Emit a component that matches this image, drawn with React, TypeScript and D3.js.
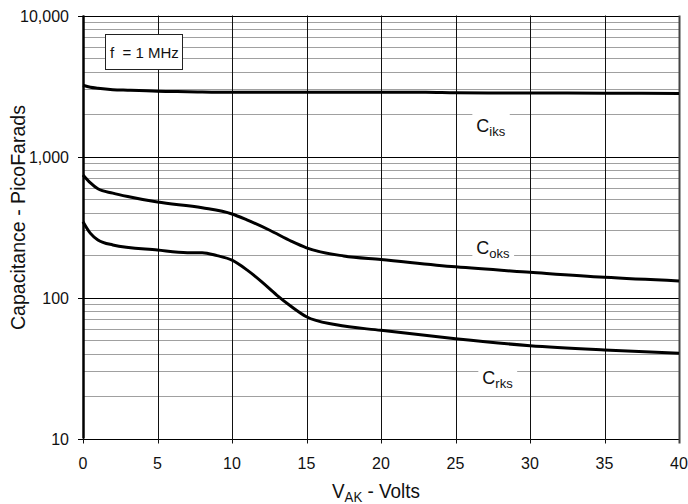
import { useEffect, useRef } from "react";
import * as d3 from "d3";

const xTicks = [0, 5, 10, 15, 20, 25, 30, 35, 40];
const yMajor = [10, 100, 1000, 10000];
const yTickLabels = ["10", "100", "1,000", "10,000"];

const ciksV = [0, 0.5, 1, 2, 3, 5, 7, 10, 15, 20, 23, 25, 30, 35, 40];
const ciksC = [3200, 3100, 3050, 2980, 2950, 2900, 2880, 2850, 2850, 2850, 2850, 2830, 2820, 2810, 2800];

const coksV = [0, 0.5, 1, 2, 3, 5, 8, 10, 11, 12.5, 14, 15, 17.5, 20, 25, 30, 35, 40];
const coksC = [740, 650, 590, 550, 520, 475, 433, 391, 355, 301, 250, 225, 197, 186, 165, 151, 139, 131];

const crksV = [0, 0.5, 1, 2, 5, 7, 8, 9, 10, 11, 12, 13, 14, 15, 17, 20, 25, 30, 35, 40];
const crksC = [345, 285, 256, 236, 217, 208, 208, 198, 184, 157, 129, 104, 86, 73, 64, 58.5, 51, 45.5, 42.4, 40.2];

const labels = [
  { main: "C", sub: "iks", v: 26.4, c: 1500 },
  { main: "C", sub: "oks", v: 26.4, c: 205 },
  { main: "C", sub: "rks", v: 26.8, c: 24.5 },
];

export default function App() {
  const ref = useRef<SVGSVGElement>(null);

  useEffect(() => {
    const svg = d3.select(ref.current);
    svg.selectAll("*").remove();

    const width = 688;
    const height = 504;
    const margin = { top: 15.5, right: 9, bottom: 65.5, left: 83 };
    const font = "Arial, 'Liberation Sans', sans-serif";

    svg.attr("width", width).attr("height", height);

    const x = d3.scaleLinear().domain([0, 40]).range([margin.left, width - margin.right]);
    const y = d3.scaleLog().domain([10, 10000]).range([height - margin.bottom, margin.top]);

    const g = svg.append("g");

    // minor horizontal grid
    const minor: number[] = [];
    [10, 100, 1000].forEach(d => {
      for (let k = 2; k <= 9; k++) minor.push(d * k);
    });
    g.selectAll("line.minor")
      .data(minor)
      .join("line")
      .attr("x1", x(0))
      .attr("x2", x(40))
      .attr("y1", d => Math.round(y(d)) + 0.5)
      .attr("y2", d => Math.round(y(d)) + 0.5)
      .attr("stroke", "#a0a0a0")
      .attr("stroke-width", 1);

    // major horizontal grid
    g.selectAll("line.major")
      .data(yMajor)
      .join("line")
      .attr("x1", x(0) - 5)
      .attr("x2", x(40))
      .attr("y1", d => Math.round(y(d)) + 0.5)
      .attr("y2", d => Math.round(y(d)) + 0.5)
      .attr("stroke", "#000")
      .attr("stroke-width", 1);

    // vertical grid + ticks
    g.selectAll("line.vx")
      .data(xTicks)
      .join("line")
      .attr("x1", d => Math.round(x(d)) + 0.5)
      .attr("x2", d => Math.round(x(d)) + 0.5)
      .attr("y1", y(10000))
      .attr("y2", y(10) + 5)
      .attr("stroke", d => (d === 40 ? "#444" : "#111"))
      .attr("stroke-width", d => (d === 40 ? 2 : 1));

    // left axis, thicker
    g.append("line")
      .attr("x1", x(0) + 0.5).attr("x2", x(0) + 0.5)
      .attr("y1", y(10000)).attr("y2", y(10))
      .attr("stroke", "#000").attr("stroke-width", 2.5);

    // y tick labels
    g.selectAll("text.yt")
      .data(yMajor)
      .join("text")
      .attr("x", x(0) - 14)
      .attr("y", d => y(d) + 6)
      .attr("text-anchor", "end")
      .attr("font-family", font)
      .attr("font-size", 16)
      .attr("fill", "#111")
      .text((d, i) => yTickLabels[i]);

    // x tick labels
    g.selectAll("text.xt")
      .data(xTicks)
      .join("text")
      .attr("x", d => x(d))
      .attr("y", y(10) + 30)
      .attr("text-anchor", "middle")
      .attr("font-family", font)
      .attr("font-size", 16)
      .attr("fill", "#111")
      .text(d => d);

    // curves
    const line = d3.line<[number, number]>()
      .x(d => x(d[0]))
      .y(d => y(d[1]))
      .curve(d3.curveMonotoneX);

    [
      [ciksV, ciksC],
      [coksV, coksC],
      [crksV, crksC],
    ].forEach(([vs, cs]) => {
      g.append("path")
        .attr("d", line(vs.map((v, i) => [v, cs[i]] as [number, number])))
        .attr("fill", "none")
        .attr("stroke", "#000")
        .attr("stroke-width", 3);
    });

    // curve labels with white backing
    labels.forEach(l => {
      const lx = x(l.v);
      const ly = y(l.c);
      const box = g.append("rect").attr("fill", "#fff");
      const t = g.append("text")
        .attr("x", lx)
        .attr("y", ly)
        .attr("font-family", font)
        .attr("font-size", 18)
        .attr("fill", "#111");
      t.append("tspan").text(l.main);
      t.append("tspan").attr("font-size", 13).attr("dy", 4).text(l.sub);
      const bb = (t.node() as SVGTextElement).getBBox();
      box.attr("x", bb.x - 4).attr("y", ly - 18).attr("width", bb.width + 8).attr("height", 30);
    });

    // frequency box
    g.append("rect")
      .attr("x", 105.5).attr("y", 34.5).attr("width", 77).attr("height", 35)
      .attr("fill", "#fff").attr("stroke", "#222").attr("stroke-width", 1);
    g.append("text")
      .attr("x", 110).attr("y", 58)
      .attr("font-family", font)
      .attr("font-size", 15)
      .attr("fill", "#111")
      .attr("xml:space", "preserve")
      .text("f  = 1 MHz");

    // axis titles
    const xt = g.append("text")
      .attr("x", 332)
      .attr("y", 498)
      .attr("font-family", font)
      .attr("font-size", 20)
      .attr("fill", "#111")
      .attr("textLength", 88)
      .attr("lengthAdjust", "spacingAndGlyphs");
    xt.append("tspan").text("V");
    xt.append("tspan").attr("font-size", 14).attr("dy", 4).text("AK");
    xt.append("tspan").attr("dy", -4).text(" - Volts");

    g.append("text")
      .attr("transform", `translate(25,330) rotate(-90)`)
      .attr("font-family", font)
      .attr("font-size", 20)
      .attr("fill", "#111")
      .attr("textLength", 225)
      .attr("lengthAdjust", "spacingAndGlyphs")
      .text("Capacitance - PicoFarads");
  }, []);

  return (
    <div style={{ position: "absolute", left: 0, top: 0 }}>
      <svg ref={ref}></svg>
    </div>
  );
}
